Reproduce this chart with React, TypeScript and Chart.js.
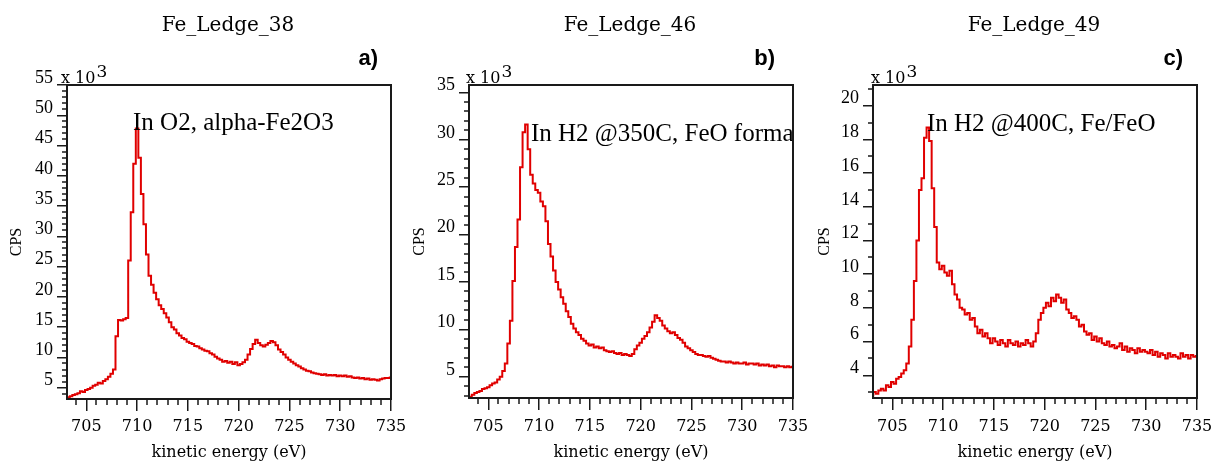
import React, { useEffect, useRef } from "react";
import { Chart, registerables } from "chart.js";

Chart.register(...registerables);

// ---------- data (CPS in units of 10^3) ----------
const ENERGY_START = 703.0; // eV, first channel
const ENERGY_STEP = 0.25; // eV per channel

const cpsLedge38 = [
  3.3, 3.4, 3.6, 3.8, 3.9, 4.1, 4.4, 4.3, 4.6, 4.8, 5.0, 5.3, 5.5, 5.8, 5.7, 6.1,
  6.4, 6.8, 7.3, 8.0, 13.5, 16.2, 16.1, 16.3, 16.5, 26.0, 34.0, 42.0, 47.8, 43.0, 37.0, 32.0,
  27.0, 23.5, 22.0, 20.7, 19.6, 18.6, 18.0, 17.3, 16.6, 15.8, 15.0, 14.6, 14.0, 13.6, 13.2, 13.0,
  12.6, 12.4, 12.2, 11.9, 11.8, 11.5, 11.3, 11.1, 11.0, 10.7, 10.5, 10.1, 9.8, 9.6, 9.3, 9.4,
  9.1, 9.3, 8.9, 9.2, 8.7, 8.9, 9.2, 9.6, 10.5, 11.4, 12.2, 12.9, 12.4, 12.0, 11.8, 12.1,
  12.4, 12.7, 12.5, 12.0, 11.3, 10.9, 10.5, 10.0, 9.6, 9.3, 9.0, 8.7, 8.5, 8.2, 8.0, 7.8,
  7.7, 7.5, 7.4, 7.3, 7.2, 7.1, 7.2, 7.0, 7.1, 7.0, 7.1, 6.9, 7.0, 6.9, 7.0, 6.8,
  6.9, 6.7, 6.6, 6.7, 6.5, 6.6, 6.4, 6.5, 6.3, 6.4, 6.3, 6.2, 6.4, 6.5, 6.6, 6.6,
  6.7,
];

const cpsLedge46 = [
  2.7, 2.9, 3.1, 3.3, 3.4, 3.5, 3.7, 3.8, 3.9, 4.1, 4.3, 4.4, 4.7, 5.0, 5.6, 6.4,
  8.5, 10.9, 15.1, 18.7, 21.6, 27.1, 30.8, 31.6, 29.0, 26.3, 25.4, 24.7, 24.4, 23.5, 23.0, 21.4,
  19.0, 17.7, 16.2, 15.0, 14.2, 13.4, 12.7, 11.9, 11.3, 10.6, 10.1, 9.7, 9.4, 9.0, 8.8, 8.5,
  8.3, 8.4, 8.1, 8.2, 8.0, 8.1, 7.8, 7.7, 7.6, 7.7, 7.5, 7.4, 7.5, 7.3, 7.4, 7.3,
  7.2, 7.4, 7.9, 8.3, 8.6, 9.0, 9.3, 9.7, 10.2, 10.8, 11.5, 11.2, 10.9, 10.4, 10.1, 9.8,
  9.6, 9.7, 9.4, 9.1, 8.9, 8.6, 8.2, 8.0, 7.8, 7.6, 7.4, 7.3, 7.3, 7.2, 7.1, 7.2,
  7.0, 6.9, 6.8, 6.7, 6.6, 6.6, 6.5, 6.6, 6.5, 6.4, 6.5, 6.4, 6.4, 6.5, 6.3, 6.4,
  6.4, 6.3, 6.4, 6.2, 6.3, 6.2, 6.3, 6.1, 6.2, 6.0, 6.2, 6.1, 6.1, 6.0, 6.1, 6.0,
  6.05,
];

const cpsLedge49 = [
  2.8, 3.0, 2.9, 3.1, 3.2, 3.1, 3.4, 3.3, 3.6, 3.5, 3.8, 3.9, 4.1, 4.3, 4.7, 5.7,
  7.3, 9.6, 12.0, 15.0, 15.7, 18.1, 18.7, 17.9, 15.1, 12.8, 10.7, 10.3, 10.5, 10.1, 9.9, 10.2,
  9.4, 8.8, 8.5, 8.0, 7.9, 7.6, 7.7, 7.3, 7.4, 6.9, 6.5, 6.7, 6.3, 6.5, 6.2, 5.9,
  6.2, 6.0, 5.8, 6.1, 5.9, 5.7, 6.1, 5.9, 5.8, 6.0, 5.7, 5.9, 5.8, 6.1, 5.9, 5.7,
  6.0, 6.5, 7.3, 7.7, 8.0, 8.3, 8.1, 8.6, 8.4, 8.8, 8.6, 8.3, 8.5, 7.9, 7.7, 7.4,
  7.5, 7.3, 6.9, 7.0, 6.6, 6.4, 6.5, 6.1, 6.3, 6.0, 6.2, 5.9, 5.8, 6.0, 5.7, 5.8,
  5.6, 5.7, 5.9, 5.5, 5.7, 5.4, 5.6, 5.5, 5.3, 5.6, 5.4, 5.5, 5.4, 5.3, 5.5, 5.2,
  5.4, 5.1, 5.3, 5.2, 5.0, 5.3, 5.1, 5.2, 5.1, 5.0, 5.3, 5.1, 5.2, 5.0, 5.2, 5.1,
  5.15,
];

const panelTitles = ["Fe_Ledge_38", "Fe_Ledge_46", "Fe_Ledge_49"];
const panelLetters = ["a)", "b)", "c)"];
const panelNotes = ["In O2, alpha-Fe2O3", "In H2 @350C, FeO formation", "In H2 @400C, Fe/FeO"];
const xAxisTitle = "kinetic energy (eV)";
const yAxisTitle = "CPS";
const xRange = [703.1, 735];
const yRanges = [
  [3.13, 55],
  [2.76, 35.78],
  [2.65, 21.23],
];
const yTickSteps = [5, 5, 2];
const xTickStep = 5;
// note anchors in data coordinates [energy, CPS]
const noteAnchors = [
  [709.6, 47.56],
  [709.2, 29.88],
  [708.41, 18.47],
];

// ---------- layout / style ----------
const H = 465;
const RED = "#e00000";
const INK = "#1a1a1a";
const SERIF = '"Liberation Serif", "Times New Roman", serif';
const DSERIF = '"DejaVu Serif", serif';
const SANS = '"Liberation Sans", Arial, sans-serif';

type Layout = {
  left: number;
  width: number;
  areaLeft: number;
  areaRight: number;
  areaBottom: number;
  letterRight: number;
  expoDx: number;
  yTitlePad: number;
  xTickPad: number;
};

const layouts: Layout[] = [
  { left: 0, width: 405, areaLeft: 67, areaRight: 391, areaBottom: 399, letterRight: 378, expoDx: -6, yTitlePad: 7, xTickPad: 6 },
  { left: 405, width: 405, areaLeft: 64, areaRight: 388, areaBottom: 398, letterRight: 370, expoDx: -3, yTitlePad: 5, xTickPad: 7 },
  { left: 810, width: 413, areaLeft: 63, areaRight: 387, areaBottom: 398, letterRight: 373, expoDx: -2, yTitlePad: 5, xTickPad: 7 },
];

const seriesList = [cpsLedge38, cpsLedge46, cpsLedge49];

function Panel({ idx }: { idx: number }) {
  const ref = useRef<HTMLCanvasElement | null>(null);
  const L = layouts[idx];

  useEffect(() => {
    const canvas = ref.current;
    if (!canvas) return;
    const values = seriesList[idx];
    const points = values.map((v, i) => ({ x: ENERGY_START + i * ENERGY_STEP, y: v }));
    const yStep = yTickSteps[idx];

    const decor = {
      id: "decor" + idx,
      afterDatasetsDraw(chart: any) {
        const { ctx, chartArea: a, scales } = chart;
        const xs = scales.x;
        const ys = scales.y;
        // annotation note, clipped to the plot area
        ctx.save();
        ctx.beginPath();
        ctx.rect(a.left, a.top, a.right - a.left, a.bottom - a.top);
        ctx.clip();
        ctx.fillStyle = "#000";
        ctx.font = `25px ${SERIF}`;
        ctx.textAlign = "left";
        ctx.textBaseline = "alphabetic";
        ctx.fillText(
          panelNotes[idx],
          xs.getPixelForValue(noteAnchors[idx][0]),
          ys.getPixelForValue(noteAnchors[idx][1])
        );
        ctx.restore();

        // frame
        ctx.save();
        ctx.strokeStyle = INK;
        ctx.lineWidth = 2;
        ctx.strokeRect(a.left, a.top, a.right - a.left, a.bottom - a.top);
        // minor ticks
        ctx.lineWidth = 1.5;
        ctx.beginPath();
        for (let v = Math.ceil(xs.min); v <= xs.max; v++) {
          if (v % xTickStep === 0) continue;
          const px = Math.round(xs.getPixelForValue(v));
          ctx.moveTo(px, a.bottom);
          ctx.lineTo(px, a.bottom + 6);
        }
        for (let v = Math.ceil(ys.min); v <= ys.max; v++) {
          if (v % yStep === 0) continue;
          const py = Math.round(ys.getPixelForValue(v));
          ctx.moveTo(a.left - 5, py);
          ctx.lineTo(a.left, py);
        }
        ctx.stroke();
        ctx.restore();
      },
      afterDraw(chart: any) {
        const { ctx, chartArea: a } = chart;
        ctx.save();
        ctx.fillStyle = "#000";
        // title
        ctx.font = `20px ${DSERIF}`;
        ctx.textAlign = "center";
        ctx.textBaseline = "alphabetic";
        ctx.fillText(panelTitles[idx], (a.left + a.right) / 2 - 1, 31);
        // x 10^3
        ctx.textAlign = "left";
        ctx.font = `16px ${DSERIF}`;
        const ex = a.left + L.expoDx;
        ctx.fillText("x 10", ex, 83);
        const w = ctx.measureText("x 10").width;
        ctx.font = `17px ${DSERIF}`;
        ctx.fillText("3", ex + w + 1, 77);
        // panel letter
        ctx.font = `bold 22px ${SANS}`;
        ctx.textAlign = "right";
        ctx.fillText(panelLetters[idx], L.letterRight, 65);
        ctx.restore();
      },
    };

    const chart = new Chart(canvas, {
      type: "line",
      data: {
        datasets: [
          {
            data: points,
            borderColor: RED,
            borderWidth: 2,
            pointRadius: 0,
            stepped: "middle",
            fill: false,
          },
        ],
      },
      options: {
        animation: false,
        responsive: false,
        devicePixelRatio: 1,
        events: [],
        layout: {
          padding: { left: 0, top: 85, right: L.width - L.areaRight, bottom: 0 },
        },
        plugins: {
          legend: { display: false },
          tooltip: { enabled: false },
          title: { display: false },
        },
        scales: {
          x: {
            type: "linear",
            min: xRange[0],
            max: xRange[1],
            afterFit(s: any) {
              s.height = H - L.areaBottom;
              s.paddingLeft = 0;
              s.paddingRight = 0;
            },
            border: { display: false },
            grid: { drawOnChartArea: false, drawTicks: true, tickLength: 12, color: INK, lineWidth: 1.5 },
            ticks: {
              stepSize: xTickStep,
              includeBounds: false,
              autoSkip: false,
              maxRotation: 0,
              padding: L.xTickPad,
              color: "#000",
              font: { family: DSERIF, size: 16 },
            },
            title: {
              display: true,
              text: xAxisTitle,
              color: "#000",
              font: { family: DSERIF, size: 16 },
              padding: { top: 0, bottom: 3 },
            },
          },
          y: {
            type: "linear",
            min: yRanges[idx][0],
            max: yRanges[idx][1],
            afterFit(s: any) {
              s.width = L.areaLeft;
              s.paddingTop = 0;
              s.paddingBottom = 0;
            },
            border: { display: false },
            grid: { drawOnChartArea: false, drawTicks: true, tickLength: 10, color: INK, lineWidth: 1.5 },
            ticks: {
              stepSize: yStep,
              includeBounds: false,
              autoSkip: false,
              padding: 4,
              labelOffset: -7,
              color: "#000",
              font: { family: SERIF, size: 18 },
            },
            title: {
              display: true,
              text: yAxisTitle,
              color: "#000",
              font: { family: SERIF, size: 16 },
              padding: { top: L.yTitlePad, bottom: 0 },
            },
          },
        },
      },
      plugins: [decor],
    } as any);

    return () => chart.destroy();
  }, [idx]);

  return (
    <canvas
      ref={ref}
      width={L.width}
      height={H}
      style={{ position: "absolute", left: L.left, top: 0, width: L.width, height: H, display: "block" }}
    />
  );
}

export default function App() {
  return (
    <div style={{ position: "absolute", left: 0, top: 0, width: 1223, height: H, background: "#fff", overflow: "hidden" }}>
      <Panel idx={0} />
      <Panel idx={1} />
      <Panel idx={2} />
    </div>
  );
}
